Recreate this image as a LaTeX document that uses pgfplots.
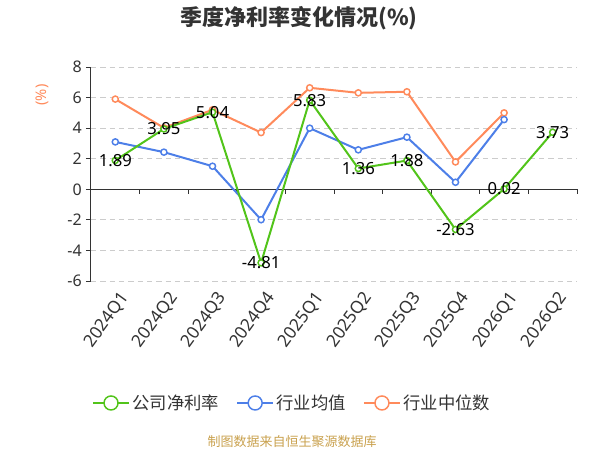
\documentclass[border=0pt]{standalone}
\usepackage{fontspec}
\setmainfont{Noto Sans}
\newfontfamily\cjk{Noto Sans CJK SC}
\usepackage{pgfplots}
\pgfplotsset{compat=1.18}
\definecolor{cgreen}{HTML}{52C41A}
\definecolor{cblue}{HTML}{4D7FE8}
\definecolor{corange}{HTML}{FF8A5B}
\definecolor{ctext}{HTML}{333333}
\definecolor{cgrid}{HTML}{CCCCCC}
\definecolor{cfoot}{HTML}{C9A14E}
\begin{document}
\begin{tikzpicture}
\path[use as bounding box] (-68.25pt,-126.75pt) rectangle ++(450pt,337.5pt);
\begin{axis}[
  scale only axis, width=364.5pt, height=160.5pt,
  at={(0pt,0pt)}, anchor=south west,
  xmin=-0.5, xmax=9.5, ymin=-6, ymax=8,
  ytick={-6,-4,...,8},
  xtick={0,...,9},
  xticklabels={2024Q1,2024Q2,2024Q3,2024Q4,2025Q1,2025Q2,2025Q3,2025Q4,2026Q1,2026Q2},
  axis x line*=bottom, axis y line*=left,
  x axis line style={draw=none},
  y axis line style={ctext, line width=0.75pt},
  xtick style={draw=none},
  ytick style={ctext, line width=0.75pt},
  tick align=outside, major tick length=3.75pt,
  xticklabel style={rotate=54, anchor=east, inner sep=0pt, yshift=-10pt, xshift=-0.5pt, font=\fontsize{13}{15}\selectfont, text=ctext},
  yticklabel style={inner sep=0pt, xshift=-3pt, font=\fontsize{12}{14}\selectfont, text=ctext},
  /pgf/number format/assume math mode=true,
  ymajorgrids, grid style={cgrid, dash pattern=on 4pt off 3pt, line width=0.75pt},
  clip=false,
  legend columns=3, reverse legend,
  legend style={at={(0.4146,-0.570)}, anchor=center, draw=none, fill=none,
    font=\cjk\fontsize{13}{15}\selectfont, text=ctext,
    /tikz/every even column/.append style={column sep=11pt}},
  legend image code/.code={
    \draw[line width=1.1pt] (0pt,0pt) -- (27pt,0pt);
    \draw[line width=1.1pt, fill=white] (13.5pt,0pt) circle (5.25pt);
  },
]
\draw[ctext, line width=0.75pt] (axis cs:-0.5,0) -- (axis cs:9.5,0);
\pgfplotsinvokeforeach{0.5,1.5,2.5,3.5,4.5,5.5,6.5,7.5,8.5,9.5}{
  \draw[ctext, line width=0.75pt] (axis cs:#1,0) -- ++(0pt,-3.75pt);
}
\addplot[corange, line width=1.5pt, mark=*, mark size=2.3pt, mark options={fill=white, line width=1.1pt}]
  coordinates {(0,5.90)(1,4.02)(2,5.20)(3,3.71)(4,6.64)(5,6.31)(6,6.38)(7,1.79)(8,5.00)};
\addlegendentry{行业中位数}
\addplot[cblue, line width=1.5pt, mark=*, mark size=2.3pt, mark options={fill=white, line width=1.1pt}]
  coordinates {(0,3.10)(1,2.43)(2,1.51)(3,-1.99)(4,4.00)(5,2.58)(6,3.41)(7,0.46)(8,4.56)};
\addlegendentry{行业均值}
\addplot[cgreen, line width=1.5pt, mark=*, mark size=2.3pt, mark options={fill=white, line width=1.1pt},
  point meta=explicit symbolic, nodes near coords,
  every node near coord/.append style={anchor=center, font=\fontsize{12.5}{14}\selectfont, text=black}]
  coordinates {(0,1.89)[1.89] (1,3.95)[3.95] (2,5.04)[5.04] (3,-4.81)[-4.81] (4,5.83)[5.83]
               (5,1.36)[1.36] (6,1.88)[1.88] (7,-2.63)[-2.63] (8,0.02)[0.02] (9,3.73)[3.73]};
\addlegendentry{公司净利率}
\end{axis}
\node[font=\cjk\bfseries\fontsize{16.5}{18}\selectfont, text=ctext] at (156pt,197.25pt) {季度净利率变化情况(\%)};
\node[rotate=90, text=corange, font=\fontsize{11}{12}\selectfont] at (-36.75pt,139.5pt) {(\%)};
\node[font=\cjk\fontsize{9.75}{11}\selectfont, text=cfoot] at (150.75pt,-120.75pt) {制图数据来自恒生聚源数据库};
\end{tikzpicture}
\end{document}
